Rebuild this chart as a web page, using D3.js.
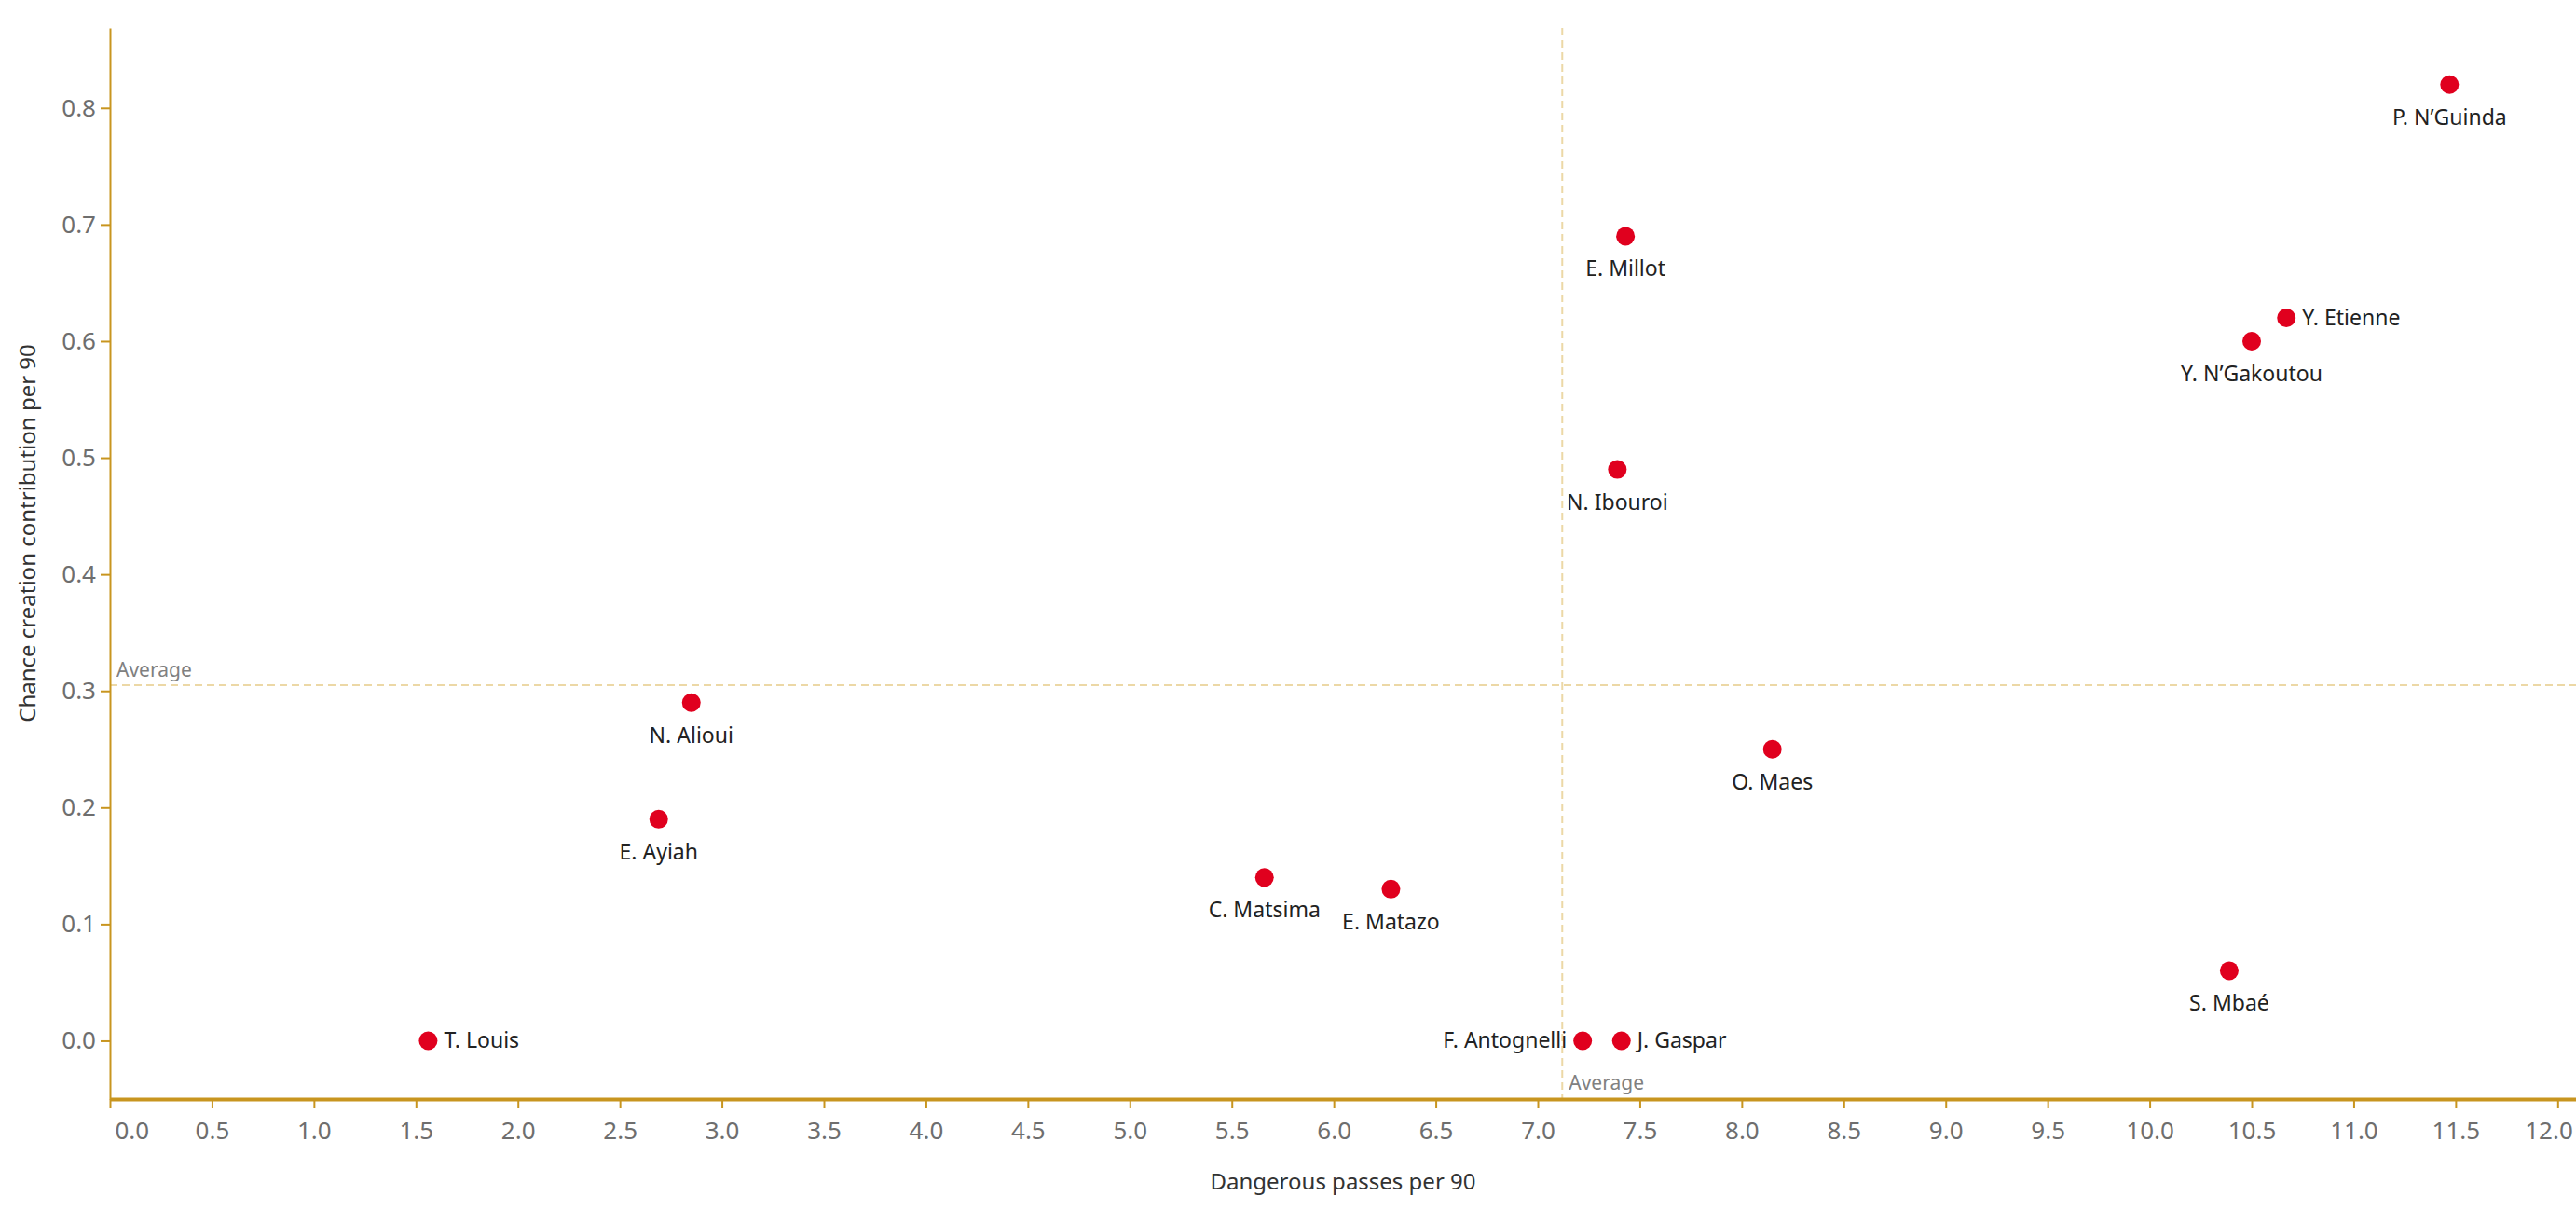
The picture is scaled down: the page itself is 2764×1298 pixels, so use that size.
<!DOCTYPE html>
<html>
<head>
<meta charset="utf-8">
<script src="https://cdn.jsdelivr.net/npm/d3@7"></script>
<style>
  html, body { margin: 0; padding: 0; background: #fff; }
  svg text { font-family: "Noto Sans", "Open Sans", sans-serif; }
</style>
</head>
<body>
<div class="canvas"></div>
<script>
// player data
const players = ['P. N\u2019Guinda', 'E. Millot', 'Y. Etienne', 'Y. N\u2019Gakoutou', 'N. Ibouroi', 'N. Alioui',
                 'O. Maes', 'E. Ayiah', 'C. Matsima', 'E. Matazo', 'S. Mbaé', 'T. Louis', 'F. Antognelli', 'J. Gaspar']
const dangerousPasses = [11.47, 7.43, 10.67, 10.50, 7.39, 2.85, 8.15, 2.69, 5.66, 6.28, 10.39, 1.56, 7.22, 7.41]
const chanceCreation = [0.82, 0.69, 0.62, 0.60, 0.49, 0.29, 0.25, 0.19, 0.14, 0.13, 0.06, 0.00, 0.00, 0.00]

const xTicks = d3.range(0, 12.01, 0.5)
const yTicks = [0, 0.1, 0.2, 0.3, 0.4, 0.5, 0.6, 0.7, 0.8]
const avgX = 7.12
const avgY = 0.305

// where each name sits relative to its dot
const labelSide = { 'Y. Etienne': 'right', 'T. Louis': 'right', 'J. Gaspar': 'right', 'F. Antognelli': 'left' }

const dims = { width: 2764, height: 1298 }
const m = { left: 118, top: 30, right: 2764, bottom: 1179 }
const axisColor = '#c8951f'

const svg = d3.select('.canvas')
              .append('svg')
              .attr('width', dims.width)
              .attr('height', dims.height)

const x = d3.scaleLinear().domain([0, 12.09]).range([m.left, m.right])
const y = d3.scaleLinear().domain([-0.05, 0.8686]).range([m.bottom, m.top])

// average lines
svg.append('line')
   .attr('x1', x(avgX)).attr('x2', x(avgX))
   .attr('y1', m.top).attr('y2', m.bottom)
   .attr('stroke', '#ecd8a6').attr('stroke-width', 2)
   .attr('stroke-dasharray', '8,5')

svg.append('line')
   .attr('x1', m.left).attr('x2', m.right)
   .attr('y1', y(avgY)).attr('y2', y(avgY))
   .attr('stroke', '#ecd8a6').attr('stroke-width', 2)
   .attr('stroke-dasharray', '8,5')

svg.append('text')
   .attr('x', m.left + 7).attr('y', y(avgY) - 9)
   .attr('fill', '#808080').attr('font-size', 21)
   .text('Average')

svg.append('text')
   .attr('x', x(avgX) + 7).attr('y', m.bottom - 10)
   .attr('fill', '#808080').attr('font-size', 21)
   .text('Average')

// axes
const xAxis = d3.axisBottom(x).tickValues(xTicks).tickFormat(d3.format('.1f')).tickSize(10).tickSizeOuter(0)
const yAxis = d3.axisLeft(y).tickValues(yTicks).tickFormat(d3.format('.1f')).tickSize(10).tickSizeOuter(0)

const gx = svg.append('g')
              .attr('transform', `translate(0, ${m.bottom})`)
              .call(xAxis)
gx.select('.domain').attr('stroke', axisColor).attr('stroke-width', 4)
gx.selectAll('.tick line').attr('stroke', axisColor).attr('stroke-width', 2)
gx.selectAll('.tick text')
  .attr('fill', '#6e6e6e').attr('font-size', 26)
  .attr('y', 25).attr('dy', '0.71em')
gx.selectAll('.tick text').filter(d => d === 0).attr('text-anchor', 'start').attr('x', 5)
gx.selectAll('.tick text').filter(d => d === 12).attr('text-anchor', 'end').attr('x', 16)

const gy = svg.append('g')
              .attr('transform', `translate(${m.left}, 0)`)
              .call(yAxis)
gy.select('.domain').attr('stroke', axisColor).attr('stroke-width', 2)
gy.selectAll('.tick line').attr('stroke', axisColor).attr('stroke-width', 2)
gy.selectAll('.tick text')
  .attr('fill', '#6e6e6e').attr('font-size', 26)
  .attr('x', -15)

// axis titles
svg.append('text')
   .attr('x', (m.left + m.right) / 2).attr('y', 1276)
   .attr('text-anchor', 'middle')
   .attr('fill', '#333').attr('font-size', 24)
   .text('Dangerous passes per 90')

svg.append('text')
   .attr('transform', `translate(38, 572) rotate(-90)`)
   .attr('text-anchor', 'middle')
   .attr('fill', '#333').attr('font-size', 24)
   .text('Chance creation contribution per 90')

// dots + labels
const data = players.map((p, i) => ({ name: p, dp: dangerousPasses[i], cc: chanceCreation[i] }))

const nodes = svg.selectAll('.node')
                 .data(data)
                 .enter()
                 .append('g')
                 .attr('class', 'node')
                 .attr('transform', d => `translate(${x(d.dp)}, ${y(d.cc)})`)

nodes.append('circle')
     .attr('r', 10)
     .attr('fill', '#e0001e')

nodes.append('text')
     .attr('font-size', 23)
     .attr('fill', '#222')
     .attr('text-anchor', d => {
        const s = labelSide[d.name]
        return s === 'right' ? 'start' : s === 'left' ? 'end' : 'middle'
     })
     .attr('x', d => {
        const s = labelSide[d.name]
        return s === 'right' ? 17 : s === 'left' ? -17 : 0
     })
     .attr('y', d => labelSide[d.name] ? 8 : 43)
     .text(d => d.name)
</script>
</body>
</html>
